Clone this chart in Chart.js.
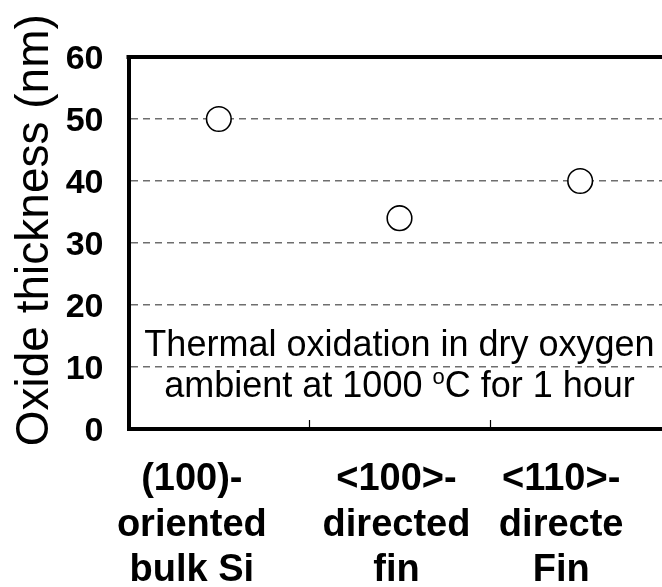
<!DOCTYPE html>
<html>
<head>
<meta charset="utf-8">
<script src="https://cdn.jsdelivr.net/npm/chart.js@4"></script>
<style>
  html, body { margin: 0; padding: 0; background: #fff; overflow: hidden; }
  #wrap { width: 700px; height: 587px; position: relative; }
</style>
</head>
<body>
<div id="wrap"><canvas id="c"></canvas></div>
<script>
// ---- data ----
const categories = [
  ["(100)-", "oriented", "bulk Si"],
  ["<100>-", "directed", "fin"],
  ["<110>-", "directe", "Fin"]
];
const oxideThickness = [50, 34, 40];
const yTicks = [0, 10, 20, 30, 40, 50, 60];
const yTitle = "Oxide thickness (nm)";
const noteLine1 = "Thermal oxidation in dry oxygen";
const noteLine2 = ["ambient at 1000 ", "o", "C for 1 hour"];

// ---- layout / style (not data) ----
const labelShift = [-27, -3, -19];
const FONT = "'Liberation Sans', Arial, sans-serif";
const NARROW = "'Liberation Sans Narrow', 'Arial Narrow', 'Liberation Sans', Arial, sans-serif";

const frame = {
  id: 'frame',
  beforeDraw(chart) {
    const xs = chart.scales.x;
    const items = xs.getLabelItems(chart.chartArea);
    items.forEach((it, i) => {
      if (!it._shifted) { it.options.translation[0] += labelShift[i] || 0; it._shifted = true; }
    });
  },
  afterDraw(chart) {
    const {ctx, chartArea: a, scales: {x, y}} = chart;
    ctx.save();
    // top border
    ctx.strokeStyle = '#000';
    ctx.lineWidth = 4;
    ctx.beginPath();
    ctx.moveTo(a.left - 2, a.top);
    ctx.lineTo(a.right + 2, a.top);
    ctx.stroke();
    // inside tick marks between categories
    ctx.lineWidth = 1.2;
    for (let i = 0; i < categories.length - 1; i++) {
      const px = Math.round((x.getPixelForTick(i) + x.getPixelForTick(i + 1)) / 2) + 0.5;
      ctx.beginPath();
      ctx.moveTo(px, a.bottom);
      ctx.lineTo(px, a.bottom - 9);
      ctx.stroke();
    }
    // annotation text
    const cx = x.getPixelForTick(1);
    ctx.fillStyle = '#000';
    ctx.textBaseline = 'alphabetic';
    ctx.textAlign = 'left';
    const big = "36px " + FONT, small = "22px " + FONT;
    ctx.font = big;
    const w1 = ctx.measureText(noteLine1).width;
    ctx.fillText(noteLine1, cx - w1 / 2, y.getPixelForValue(11.8));
    ctx.font = big; const wa = ctx.measureText(noteLine2[0]).width;
    ctx.font = small; const wb = ctx.measureText(noteLine2[1]).width;
    ctx.font = big; const wc = ctx.measureText(noteLine2[2]).width;
    const total = wa + wb + wc;
    const by = y.getPixelForValue(5.2);
    let sx = cx - total / 2;
    ctx.font = big; ctx.fillText(noteLine2[0], sx, by); sx += wa;
    ctx.font = small; ctx.fillText(noteLine2[1], sx, by - 13); sx += wb;
    ctx.font = big; ctx.fillText(noteLine2[2], sx, by);
    ctx.restore();
  }
};

new Chart(document.getElementById('c'), {
  type: 'line',
  data: {
    labels: categories,
    datasets: [{
      data: oxideThickness,
      showLine: false,
      pointStyle: 'circle',
      pointRadius: 12.3,
      pointHoverRadius: 12.3,
      pointBackgroundColor: '#fff',
      pointBorderColor: '#000',
      pointBorderWidth: 1.6
    }]
  },
  options: {
    responsive: true,
    maintainAspectRatio: false,
    animation: false,
    events: [],
    layout: { padding: { top: 57, right: 29.5, left: 0, bottom: 0 } },
    plugins: { legend: { display: false }, tooltip: { enabled: false } },
    scales: {
      x: {
        type: 'category',
        offset: true,
        afterFit(s) { s.height = 158; },
        grid: { display: false },
        border: { display: true, color: '#000', width: 4 },
        ticks: {
          color: '#000',
          padding: 20,
          maxRotation: 0,
          autoSkip: false,
          font: { family: FONT, size: 38, weight: 'bold', lineHeight: 1.2 }
        }
      },
      y: {
        min: 0, max: 60,
        afterFit(s) { s.width = 128.5; },
        afterBuildTicks(s) { s.ticks = yTicks.map(v => ({ value: v })); },
        grid: {
          drawTicks: false,
          color: ctx => (ctx.tick && (ctx.tick.value === 0 || ctx.tick.value === 60)) ? 'rgba(0,0,0,0)' : '#6e6e6e',
          lineWidth: 1.4
        },
        border: { display: true, color: '#000', width: 4, dash: [7, 5] },
        ticks: {
          color: '#000',
          padding: 25,
          labelOffset: 3,
          font: { family: NARROW, size: 34, weight: 'bold' }
        },
        title: {
          display: true,
          text: "  " + yTitle,
          color: '#000',
          padding: { top: 8, bottom: 0 },
          font: { family: FONT, size: 46, weight: 'normal', lineHeight: 1.2 }
        }
      }
    }
  },
  plugins: [frame]
});
</script>
</body>
</html>
